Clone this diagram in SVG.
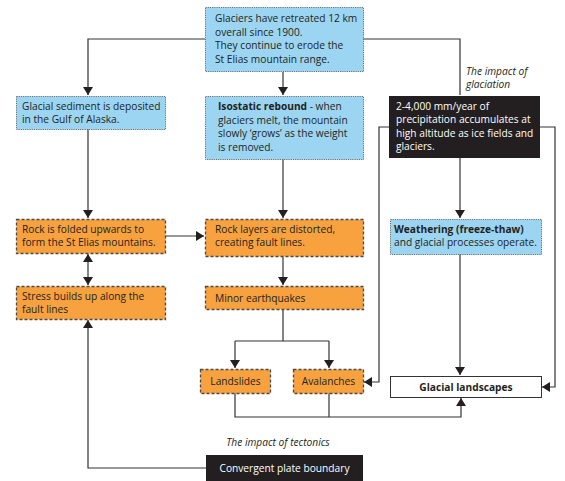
<svg xmlns="http://www.w3.org/2000/svg" width="565" height="481" viewBox="0 0 565 481">
<defs>
<marker id="ah" viewBox="0 0 8 10" refX="8" refY="5" markerWidth="8" markerHeight="10" markerUnits="userSpaceOnUse" orient="auto-start-reverse">
<path d="M0,0 L8,5 L0,10 Z" fill="#231f20"/>
</marker>
<style>
.blue{fill:#9cd5f1;stroke:#5f6f78;stroke-width:1;stroke-dasharray:1.2,1}
.orange{fill:#f7a23f;stroke:#4a4a4a;stroke-width:1.3;stroke-dasharray:3,2}
.black{fill:#231f20}
.white{fill:#ffffff;stroke:#333;stroke-width:1}
text{font-family:"Open Sans","Liberation Sans",sans-serif;font-size:10.2px;fill:#231f20}
.wt{fill:#ffffff}
.b{font-weight:bold}
.it{font-style:italic}
.c{stroke:#333;stroke-width:1.2;fill:none}
</style>
</defs>
<g id="connectors">
<path class="c" d="M205,39 H88 V95" marker-end="url(#ah)"/>
<path class="c" d="M363,39 H460 V95"/>
<path class="c" d="M283,72 V95" marker-end="url(#ah)"/>
<path class="c" d="M460,158 V218" marker-end="url(#ah)"/>
<path class="c" d="M88,129 V218" marker-end="url(#ah)"/>
<path class="c" d="M283,159 V218" marker-end="url(#ah)"/>
<path class="c" d="M165,236 H204" marker-end="url(#ah)"/>
<path class="c" d="M88,254 V285" marker-start="url(#ah)" marker-end="url(#ah)"/>
<path class="c" d="M283,257 V285" marker-end="url(#ah)"/>
<path class="c" d="M283,309 V341 M235,341 H329"/>
<path class="c" d="M235,341 V368" marker-end="url(#ah)"/>
<path class="c" d="M329,341 V368" marker-end="url(#ah)"/>
<path class="c" d="M389,127 H379 V382 H364" marker-end="url(#ah)"/>
<path class="c" d="M540,127 H555 V387 H542" marker-end="url(#ah)"/>
<path class="c" d="M460,254 V375" marker-end="url(#ah)"/>
<path class="c" d="M235,393 V417 H461 V398" marker-end="url(#ah)"/>
<path class="c" d="M329,393 V417"/>
<path class="c" d="M206,468 H88 V320" marker-end="url(#ah)"/>
</g>
<g id="top">
<rect class="blue" x="205.5" y="7.5" width="158" height="64"/>
<text x="215" y="22">Glaciers have retreated 12 km</text>
<text x="215" y="35.5">overall since 1900.</text>
<text x="215" y="49">They continue to erode the</text>
<text x="215" y="62.5">St Elias mountain range.</text>
</g>
<g id="sediment">
<rect class="blue" x="16.5" y="96.5" width="149" height="33"/>
<text x="22" y="109.5">Glacial sediment is deposited</text>
<text x="22" y="123">in the Gulf of Alaska.</text>
</g>
<g id="isostatic">
<rect class="blue" x="205.5" y="96.5" width="158" height="63"/>
<text x="218" y="110"><tspan class="b">Isostatic rebound</tspan> - when</text>
<text x="218" y="123.5">glaciers melt, the mountain</text>
<text x="218" y="137">slowly ‘grows’ as the weight</text>
<text x="218" y="150.5">is removed.</text>
</g>
<g id="glaciation-label">
<text class="it" x="466" y="75">The impact of</text>
<text class="it" x="466" y="88">glaciation</text>
</g>
<g id="precip">
<rect class="black" x="389" y="96" width="151" height="62"/>
<text class="wt" x="396" y="109.5">2-4,000 mm/year of</text>
<text class="wt" x="396" y="123">precipitation accumulates at</text>
<text class="wt" x="396" y="136.5">high altitude as ice fields and</text>
<text class="wt" x="396" y="150">glaciers.</text>
</g>
<g id="folded">
<rect class="orange" x="16.5" y="219.5" width="149" height="34"/>
<text x="22" y="232.5">Rock is folded upwards to</text>
<text x="22" y="246">form the St Elias mountains.</text>
</g>
<g id="layers">
<rect class="orange" x="205.5" y="219.5" width="158" height="37"/>
<text x="215" y="232.5">Rock layers are distorted,</text>
<text x="215" y="246">creating fault lines.</text>
</g>
<g id="weathering">
<rect class="blue" x="390.5" y="219.5" width="151" height="35"/>
<text class="b" x="394" y="232.5">Weathering (freeze-thaw)</text>
<text x="394" y="246">and glacial processes operate.</text>
</g>
<g id="stress">
<rect class="orange" x="16.5" y="286.5" width="149" height="33"/>
<text x="22" y="299.5">Stress builds up along the</text>
<text x="22" y="313">fault lines</text>
</g>
<g id="quakes">
<rect class="orange" x="205.5" y="286.5" width="158" height="23"/>
<text x="215" y="301.5">Minor earthquakes</text>
</g>
<g id="landslides">
<rect class="orange" x="200.5" y="369.5" width="70" height="24"/>
<text x="235.5" y="385" text-anchor="middle">Landslides</text>
</g>
<g id="avalanches">
<rect class="orange" x="293.5" y="369.5" width="70" height="24"/>
<text x="328.5" y="385" text-anchor="middle">Avalanches</text>
</g>
<g id="landscapes">
<rect class="white" x="390.5" y="376.5" width="151" height="21"/>
<text class="b" x="466" y="390.5" text-anchor="middle">Glacial landscapes</text>
</g>
<g id="tectonics-label">
<text class="it" x="278" y="446" text-anchor="middle">The impact of tectonics</text>
</g>
<g id="convergent">
<rect class="black" x="206" y="455" width="157" height="26"/>
<text class="wt" x="284.5" y="471.5" text-anchor="middle">Convergent plate boundary</text>
</g>
</svg>
